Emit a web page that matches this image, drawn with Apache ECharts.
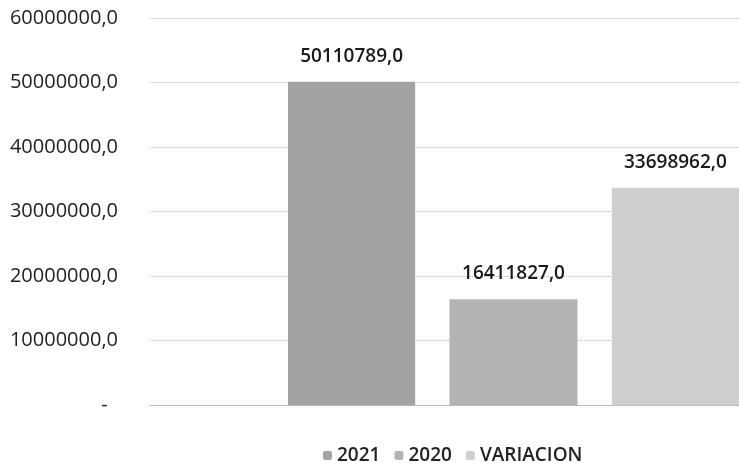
<!DOCTYPE html>
<html>
<head>
    <meta charset="utf-8">
    <title>ECharts</title>
    <script src="https://cdn.jsdelivr.net/npm/echarts@6/dist/echarts.min.js"></script>
</head>
<body style="margin:0;background:#fff">
    <div id="main" style="width: 739px;height:463px;"></div>
    <script type="text/javascript">
        var myChart = echarts.init(document.getElementById('main'));

        // datos
        var categorias = [''];
        var serieNombres = ['2021', '2020', 'VARIACION'];
        var valores2021 = [50110789];
        var valores2020 = [16411827];
        var valoresVariacion = [33698962];
        var colores = ['#a3a3a3', '#b4b4b4', '#cfcfcf'];

        function fmt(v) {
            return v.toFixed(1).replace('.', ',');
        }

        function serie(nombre, datos, color) {
            return {
                name: nombre,
                type: 'bar',
                xAxisIndex: 1,
                yAxisIndex: 1,
                data: datos,
                barWidth: 128,
                barGap: '26.8%',
                barCategoryGap: 0,
                itemStyle: { color: color },
                label: {
                    show: true,
                    position: 'top',
                    distance: 16,
                    fontFamily: 'Open Sans',
                    fontSize: 19,
                    fontWeight: 600,
                    color: '#1a1a1a',
                    formatter: function (p) { return fmt(p.value); }
                }
            };
        }

        var option = {
            animation: false,
            // grid 0: eje y y lineas de division; grid 1: barras (el area de trazado esta recortada a la derecha)
            grid: [
                { left: 150, right: 0, top: 18, bottom: 58 },
                { left: 288, right: 0, top: 18, bottom: 58 }
            ],
            legend: {
                top: 441,
                left: 318,
                itemWidth: 9,
                itemHeight: 9,
                itemGap: 14,
                textStyle: { fontFamily: 'Open Sans', fontSize: 19, fontWeight: 600, color: '#222' },
                data: serieNombres
            },
            xAxis: [{
                type: 'category',
                gridIndex: 0,
                data: categorias,
                axisTick: { show: false },
                axisLabel: { show: false },
                axisLine: { lineStyle: { color: '#aaa', type: 'dotted' } }
            }, {
                type: 'category',
                gridIndex: 1,
                data: categorias,
                show: false
            }],
            yAxis: [{
                type: 'value',
                gridIndex: 0,
                min: 0,
                max: 60000000,
                interval: 10000000,
                axisLine: { show: false },
                axisTick: { show: false },
                splitLine: { lineStyle: { color: '#bbb', type: 'dotted' } },
                axisLabel: {
                    margin: 32,
                    fontFamily: 'Open Sans',
                    fontSize: 20,
                    color: '#222',
                    formatter: function (v) { return v === 0 ? '-  ' : fmt(v); }
                }
            }, {
                type: 'value',
                gridIndex: 1,
                min: 0,
                max: 60000000,
                show: false,
                splitLine: { show: false }
            }],
            series: [
                serie(serieNombres[0], valores2021, colores[0]),
                serie(serieNombres[1], valores2020, colores[1]),
                serie(serieNombres[2], valoresVariacion, colores[2])
            ]
        };

        myChart.setOption(option);
    </script>
</body>
</html>
